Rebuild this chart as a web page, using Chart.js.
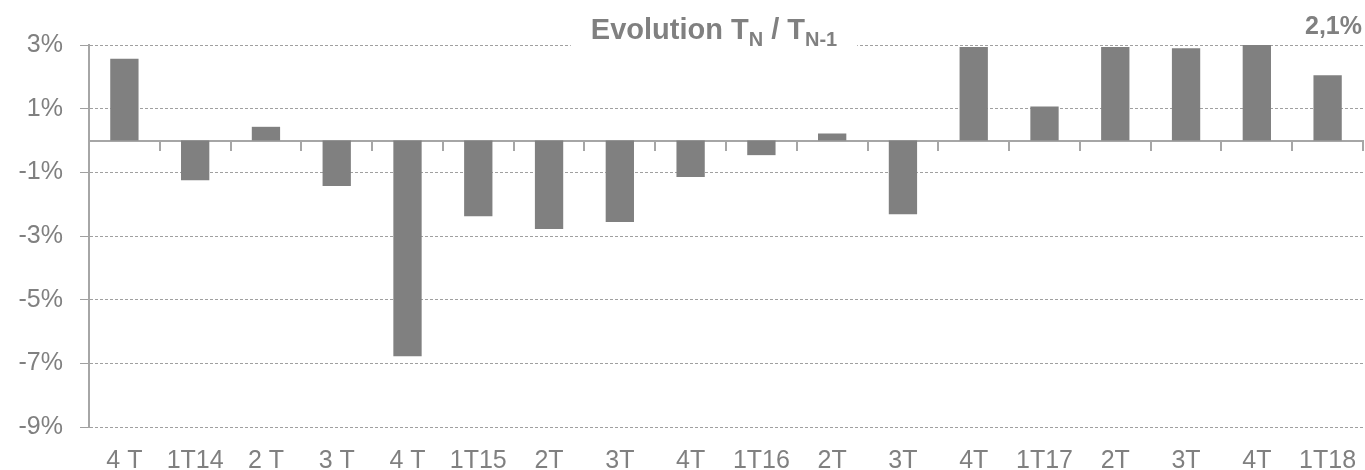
<!DOCTYPE html>
<html lang="fr">
<head>
  <meta charset="UTF-8">
  <title>Evolution TN / TN-1</title>
  <style>
    html, body {
      margin: 0;
      padding: 0;
      background: #fff;
    }
    #wrap {
      width: 1365px;
      height: 470px;
      position: relative;
    }
  </style>
  <script src="https://cdn.jsdelivr.net/npm/chart.js"></script>
</head>
<body>
  <div id="wrap">
    <canvas id="evolution-chart"></canvas>
  </div>
  <script>
    // Quarter labels and quarter-on-quarter change (%)
    const quarters = ['4 T', '1T14', '2 T', '3 T', '4 T', '1T15', '2T', '3T', '4T', '1T16', '2T', '3T', '4T', '1T17', '2T', '3T', '4T', '1T18'];
    const evolution = [2.57, -1.25, 0.43, -1.43, -6.78, -2.38, -2.78, -2.56, -1.15, -0.46, 0.22, -2.32, 2.94, 1.07, 2.94, 2.9, 3.0, 2.05];
    const yTicks = [-9, -7, -5, -3, -1, 1, 3];
    const titleMain = ['Evolution T', ' / T'];
    const titleSubs = ['N', 'N-1'];
    const lastValueLabel = '2,1%';

    const grey = '#808080';
    const lineGrey = '#a6a6a6';

    Chart.defaults.font.family = "'Liberation Sans', Arial, sans-serif";
    Chart.defaults.color = grey;

    // Title with subscripts on a white box over the top gridline, plus the last value
    const titlePlugin = {
      id: 'titlePlugin',
      afterDraw(chart) {
        const ctx = chart.ctx;
        const area = chart.chartArea;
        const bigFont = 'bold 29px "Liberation Sans", Arial, sans-serif';
        const subFont = 'bold 20px "Liberation Sans", Arial, sans-serif';
        ctx.save();
        const parts = [
          { t: titleMain[0], f: bigFont, dy: 0 },
          { t: titleSubs[0], f: subFont, dy: 7 },
          { t: titleMain[1], f: bigFont, dy: 0 },
          { t: titleSubs[1], f: subFont, dy: 7 }
        ];
        let total = 0;
        parts.forEach(p => { ctx.font = p.f; p.w = ctx.measureText(p.t).width; total += p.w; });
        const cx = (area.left + area.right) / 2 - 12;
        let x = cx - total / 2;
        ctx.fillStyle = '#fff';
        ctx.fillRect(x - 20, 36, total + 40, 16);
        ctx.fillStyle = grey;
        ctx.textBaseline = 'alphabetic';
        ctx.textAlign = 'left';
        const baseY = 39;
        parts.forEach(p => {
          ctx.font = p.f;
          ctx.fillText(p.t, x, baseY + p.dy);
          x += p.w;
        });
        ctx.font = 'bold 25px "Liberation Sans", Arial, sans-serif';
        ctx.textAlign = 'right';
        ctx.fillText(lastValueLabel, area.right - 1, 34);
        ctx.restore();
      }
    };

    new Chart(document.getElementById('evolution-chart'), {
      type: 'bar',
      data: {
        labels: quarters,
        datasets: [{
          data: evolution,
          backgroundColor: grey,
          borderWidth: 0,
          barPercentage: 0.4,
          categoryPercentage: 1.0
        }]
      },
      options: {
        responsive: true,
        maintainAspectRatio: false,
        animation: false,
        layout: { padding: { top: 45, right: 2, left: 0, bottom: 0 } },
        plugins: {
          legend: { display: false },
          tooltip: { enabled: false },
          title: { display: false }
        },
        scales: {
          x: {
            position: 'bottom',
            grid: { display: false, drawTicks: false },
            border: { display: false },
            ticks: { font: { size: 25 }, padding: 19, maxRotation: 0, autoSkip: false },
            afterFit(scale) {
              scale.height = 43;
              scale.paddingLeft = 0;
              scale.paddingRight = 0;
            }
          },
          x2: {
            type: 'category',
            labels: quarters,
            position: { y: 0 },
            offset: true,
            grid: { offset: true, drawOnChartArea: false, drawTicks: true, tickLength: 9, color: lineGrey, lineWidth: 2 },
            border: { display: true, color: lineGrey, width: 2 },
            ticks: { display: false },
            afterFit(scale) {
              scale.paddingLeft = 0;
              scale.paddingRight = 0;
            }
          },
          y: {
            min: yTicks[0],
            max: yTicks[yTicks.length - 1],
            afterBuildTicks(scale) { scale.ticks = yTicks.map(v => ({ value: v })); },
            grid: { color: '#a0a0a0', lineWidth: 1, tickLength: 9 },
            border: { display: true, color: lineGrey, width: 2, dash: [3, 2] },
            ticks: {
              font: { size: 25 },
              padding: 17,
              callback: v => v + '%'
            },
            afterFit(scale) { scale.width = 89; }
          }
        }
      },
      plugins: [titlePlugin]
    });
  </script>
</body>
</html>
